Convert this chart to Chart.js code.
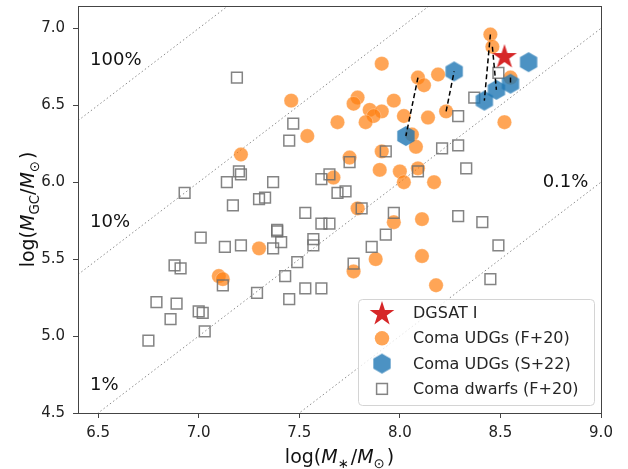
<!DOCTYPE html>
<html>
<head>
<meta charset="utf-8">
<script src="https://cdn.jsdelivr.net/npm/chart.js@4.4.1/dist/chart.umd.min.js"></script>
<style>
  html, body { margin: 0; padding: 0; background: #fff; }
  #wrap { width: 628px; height: 469px; position: relative; }
</style>
</head>
<body>
<div id="wrap"><canvas id="gcChart"></canvas></div>
<script>
const FONT = '"DejaVu Sans", sans-serif';

// axis ticks
const xTicks = [6.5, 7.0, 7.5, 8.0, 8.5, 9.0];
const yTicks = [4.5, 5.0, 5.5, 6.0, 6.5, 7.0];

// DGSAT I
const dgsatX = [8.52];
const dgsatY = [6.82];

// Coma UDGs (F+20)
const udgF20X = [8.45, 8.46, 7.91, 8.09, 8.12, 8.19, 8.55, 7.46, 7.79, 7.77, 7.97, 7.85, 7.91, 7.87,
  7.83, 7.69, 8.02, 8.14, 8.23, 8.52, 7.54, 8.06, 8.08, 7.91, 7.75, 7.90, 8.00, 8.09, 8.02, 8.17,
  7.67, 7.21, 7.79, 7.97, 8.11, 7.88, 8.11, 7.77, 8.18, 7.30, 7.10, 7.12];
const udgF20Y = [6.96, 6.88, 6.77, 6.68, 6.63, 6.70, 6.68, 6.53, 6.55, 6.51, 6.53, 6.47, 6.46, 6.43,
  6.39, 6.39, 6.43, 6.42, 6.46, 6.39, 6.30, 6.31, 6.23, 6.20, 6.16, 6.08, 6.07, 6.09, 6.00, 6.00,
  6.03, 6.18, 5.83, 5.74, 5.76, 5.50, 5.52, 5.42, 5.33, 5.57, 5.39, 5.37];

// Coma UDGs (S+22)
const udgS22X = [8.03, 8.27, 8.42, 8.48, 8.55, 8.64];
const udgS22Y = [6.30, 6.72, 6.53, 6.60, 6.64, 6.78];

// same galaxy in both catalogues: [F+20 index, S+22 index]
const matchedPairs = [[3, 0], [18, 1], [0, 2], [1, 3], [6, 4]];

// Coma dwarfs (F+20)
const dwarfX = [7.19, 7.47, 7.45, 7.20, 7.21, 7.14, 7.37, 6.93, 7.17, 7.30, 7.33, 7.61, 7.65, 7.69,
  7.73, 7.75, 7.93, 8.09, 7.81, 7.97, 7.53, 7.39, 7.39, 7.01, 7.13, 7.21, 7.37, 7.41, 7.61, 7.65,
  7.57, 7.57, 7.49, 7.77, 6.88, 6.91, 7.12, 7.43, 7.29, 7.45, 7.53, 7.61, 6.79, 6.89, 6.86, 7.00,
  7.02, 7.03, 6.75, 7.93, 7.86, 8.29, 8.41, 8.49, 8.45, 8.49, 8.37, 8.29, 8.21, 8.29, 8.33];
const dwarfY = [6.68, 6.38, 6.27, 6.07, 6.05, 6.00, 6.00, 5.93, 5.85, 5.89, 5.90, 6.02, 6.05, 5.93,
  5.94, 6.13, 6.20, 6.07, 5.83, 5.80, 5.80, 5.69, 5.68, 5.64, 5.58, 5.59, 5.57, 5.61, 5.73, 5.73,
  5.63, 5.59, 5.48, 5.47, 5.46, 5.44, 5.33, 5.39, 5.28, 5.24, 5.31, 5.31, 5.22, 5.21, 5.11, 5.16,
  5.15, 5.03, 4.97, 5.66, 5.58, 5.78, 5.74, 5.59, 5.37, 6.71, 6.55, 6.43, 6.22, 6.24, 6.09];

// constant M_GC / M_* ratios (log offsets) and where their labels sit
const ratioOffsets = [0, -1, -2, -3];
const ratioLabels = ['100%', '10%', '1%', '0.1%'];
const ratioLabelX = [6.46, 6.46, 6.46, 8.71];
const ratioLabelY = [6.79, 5.74, 4.68, 6.00];

const toPoints = (xs, ys) => xs.map((x, i) => ({ x, y: ys[i] }));

function hexagonImage(r, fill) {
  const c = document.createElement('canvas');
  const w = Math.ceil(r * 2 + 2);
  c.width = w; c.height = w;
  const ctx = c.getContext('2d');
  ctx.beginPath();
  for (let k = 0; k < 6; k++) {
    const a = -Math.PI / 2 + k * Math.PI / 3;
    const px = w / 2 + r * Math.cos(a), py = w / 2 + r * Math.sin(a);
    k ? ctx.lineTo(px, py) : ctx.moveTo(px, py);
  }
  ctx.closePath();
  ctx.fillStyle = fill;
  ctx.fill();
  return c;
}

function starImage(r, fill) {
  const c = document.createElement('canvas');
  const w = Math.ceil(r * 2 + 2);
  c.width = w; c.height = w;
  const ctx = c.getContext('2d');
  const inner = r * 0.382;
  ctx.beginPath();
  for (let k = 0; k < 10; k++) {
    const a = -Math.PI / 2 + k * Math.PI / 5;
    const rr = k % 2 ? inner : r;
    const px = w / 2 + rr * Math.cos(a), py = w / 2 + 1 + rr * Math.sin(a);
    k ? ctx.lineTo(px, py) : ctx.moveTo(px, py);
  }
  ctx.closePath();
  ctx.fillStyle = fill;
  ctx.fill();
  return c;
}

const hexIcon = hexagonImage(10, 'rgba(31,119,180,0.8)');
const starIcon = starImage(13, '#d62728');
const orangeFill = 'rgba(255,127,14,0.7)';
const dwarfEdge = 'rgba(110,110,110,0.85)';

const datasets = [];

ratioOffsets.forEach(c => {
  datasets.push({
    type: 'line',
    data: [{ x: 4, y: 4 + c }, { x: 10, y: 10 + c }],
    borderColor: '#8c8c8c',
    borderWidth: 1,
    borderDash: [1.5, 2.5],
    pointRadius: 0,
    order: 6
  });
});

datasets.push({
  label: 'Coma UDGs (F+20)',
  data: toPoints(udgF20X, udgF20Y),
  pointStyle: 'circle',
  pointRadius: 7.2,
  backgroundColor: orangeFill,
  borderColor: 'rgba(255,255,255,0.45)',
  borderWidth: 0.6,
  order: 5
});

datasets.push({
  label: 'Coma dwarfs (F+20)',
  data: toPoints(dwarfX, dwarfY),
  pointStyle: 'rect',
  pointRadius: 7.6,
  backgroundColor: 'rgba(0,0,0,0)',
  borderColor: dwarfEdge,
  borderWidth: 1.5,
  order: 4
});

datasets.push({
  label: 'Coma UDGs (S+22)',
  data: toPoints(udgS22X, udgS22Y),
  pointStyle: hexIcon,
  order: 3
});

matchedPairs.forEach(([i, j]) => {
  datasets.push({
    type: 'line',
    data: [{ x: udgF20X[i], y: udgF20Y[i] }, { x: udgS22X[j], y: udgS22Y[j] }],
    borderColor: '#000',
    borderWidth: 1.5,
    borderDash: [5, 3],
    pointRadius: 0,
    order: 2
  });
});

datasets.push({
  label: 'DGSAT I',
  data: toPoints(dgsatX, dgsatY),
  pointStyle: starIcon,
  order: 1
});

function drawMath(ctx, parts, size) {
  let total = 0;
  parts.forEach(p => {
    const s = p.sub ? size * 0.7 : size;
    p.font = `${p.it ? 'italic ' : ''}${s}px ${FONT}`;
    ctx.font = p.font;
    p.w = ctx.measureText(p.t).width + (p.gap || 0);
    total += p.w;
  });
  let x = -total / 2;
  parts.forEach(p => {
    ctx.font = p.font;
    ctx.fillText(p.t, x, p.sub ? size * 0.24 : 0);
    x += p.w;
  });
}

const decorations = {
  id: 'decorations',
  afterDatasetsDraw(chart) {
    const { ctx, chartArea: a, scales: { x, y } } = chart;
    ctx.save();
    // ratio labels
    ctx.fillStyle = '#111';
    ctx.font = `18px ${FONT}`;
    ctx.textBaseline = 'middle';
    ctx.textAlign = 'left';
    ratioLabels.forEach((t, i) => {
      ctx.fillText(t, x.getPixelForValue(ratioLabelX[i]), y.getPixelForValue(ratioLabelY[i]));
    });

    // legend
    const lx = 358, ly = 299, lw = 236, lh = 106;
    ctx.beginPath();
    ctx.roundRect(lx + 0.5, ly + 0.5, lw, lh, 4);
    ctx.fillStyle = 'rgba(255,255,255,0.8)';
    ctx.fill();
    ctx.strokeStyle = '#d4d4d4';
    ctx.lineWidth = 1;
    ctx.stroke();

    const rows = ['DGSAT I', 'Coma UDGs (F+20)', 'Coma UDGs (S+22)', 'Coma dwarfs (F+20)'];
    const mx = 382;
    rows.forEach((t, i) => {
      const ry = ly + 14 + i * 25.3;
      if (i === 0) ctx.drawImage(starIcon, mx - starIcon.width / 2, ry - starIcon.height / 2);
      if (i === 1) {
        ctx.beginPath();
        ctx.arc(mx, ry, 7.2, 0, Math.PI * 2);
        ctx.fillStyle = orangeFill;
        ctx.fill();
      }
      if (i === 2) ctx.drawImage(hexIcon, mx - hexIcon.width / 2, ry - hexIcon.height / 2);
      if (i === 3) {
        ctx.strokeStyle = dwarfEdge;
        ctx.lineWidth = 1.5;
        ctx.strokeRect(mx - 5.4, ry - 5.4, 10.8, 10.8);
      }
      ctx.fillStyle = '#262626';
      ctx.font = `16px ${FONT}`;
      ctx.textBaseline = 'middle';
      ctx.fillText(t, 413, ry + 1);
    });

    // top and right spines
    ctx.strokeStyle = '#444';
    ctx.lineWidth = 1;
    ctx.strokeRect(Math.round(a.left) + 0.5, Math.round(a.top) + 0.5,
      Math.round(a.right - a.left), Math.round(a.bottom - a.top));

    // axis titles
    ctx.fillStyle = '#111';
    ctx.textBaseline = 'alphabetic';
    ctx.textAlign = 'left';
    ctx.save();
    ctx.translate((a.left + a.right) / 2, 463);
    drawMath(ctx, [
      { t: 'log(' }, { t: 'M', it: true }, { t: '∗', sub: true, gap: 2 }, { t: '/' },
      { t: 'M', it: true }, { t: '⊙', sub: true, gap: 2 }, { t: ')' }
    ], 19);
    ctx.restore();

    ctx.save();
    ctx.translate(34, (a.top + a.bottom) / 2);
    ctx.rotate(-Math.PI / 2);
    drawMath(ctx, [
      { t: 'log(' }, { t: 'M', it: true }, { t: 'GC', sub: true }, { t: '/' },
      { t: 'M', it: true }, { t: '⊙', sub: true, gap: 2 }, { t: ')' }
    ], 19);
    ctx.restore();
    ctx.restore();
  }
};

const axisCommon = {
  type: 'linear',
  grid: { drawOnChartArea: false, drawTicks: true, tickLength: 5, color: '#444' },
  border: { color: '#444', width: 1 },
  ticks: { color: '#222', font: { family: FONT, size: 15 }, callback: v => v.toFixed(1) }
};

new Chart(document.getElementById('gcChart'), {
  type: 'scatter',
  data: { datasets },
  options: {
    responsive: true,
    maintainAspectRatio: false,
    animation: false,
    layout: { autoPadding: false, padding: { top: 6, right: 27, left: 0, bottom: 0 } },
    plugins: { legend: { display: false }, tooltip: { enabled: false } },
    scales: {
      x: {
        ...axisCommon,
        min: 6.4, max: 9.0,
        ticks: { ...axisCommon.ticks, padding: 6 },
        afterBuildTicks: s => { s.ticks = xTicks.map(v => ({ value: v })); },
        afterFit: s => { s.height = 56; s.paddingLeft = 0; s.paddingRight = 0; }
      },
      y: {
        ...axisCommon,
        min: 4.5, max: 7.145,
        ticks: { ...axisCommon.ticks, padding: 8 },
        afterBuildTicks: s => { s.ticks = yTicks.map(v => ({ value: v })); },
        afterFit: s => { s.width = 78; s.paddingTop = 0; s.paddingBottom = 0; }
      }
    }
  },
  plugins: [decorations]
});
</script>
</body>
</html>
